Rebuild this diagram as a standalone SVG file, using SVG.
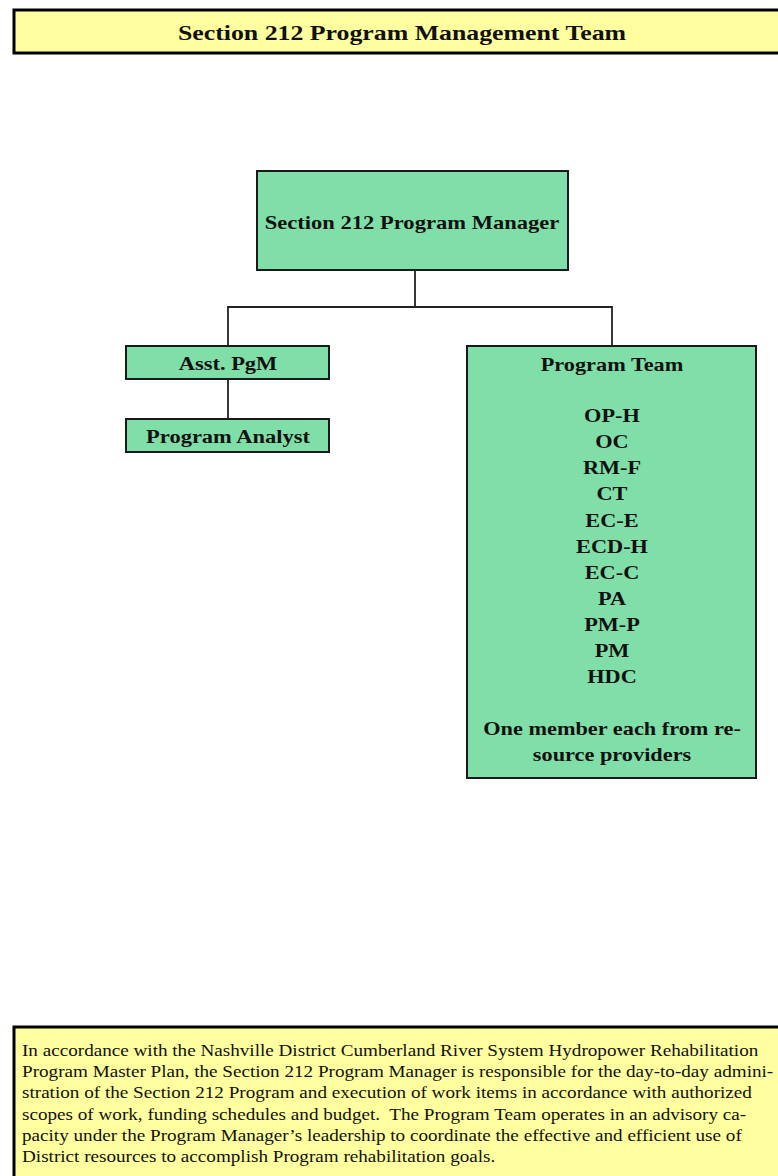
<svg xmlns="http://www.w3.org/2000/svg" width="778" height="1176" viewBox="0 0 778 1176">
<style>
.banner{fill:#FFFF9F;stroke:#000;stroke-width:3}
.node{fill:#80DFA8;stroke:#1a1a1a;stroke-width:2}
.t{font-family:"Liberation Serif","Times New Roman",serif;font-weight:bold;fill:#111;text-anchor:middle;font-size:18px}
.body{font-family:"Liberation Serif","Times New Roman",serif;fill:#111;font-size:16.5px;white-space:pre}
.conn{fill:none;stroke:#222;stroke-width:1.8}
</style>
<rect width="778" height="1176" fill="#fff"/>
<g id="title">
<rect class="banner" x="14" y="10" width="770" height="43"/>
<text class="t" transform="translate(402,40) scale(1.23,1)" style="font-size:21px">Section 212 Program Management Team</text>
</g>
<g id="connectors">
<path class="conn" d="M415,270 V307 M228,346 V307 H612 V346 M228,379 V419"/>
</g>
<g id="manager">
<rect class="node" x="257" y="171" width="311" height="99"/>
<text class="t" transform="translate(412,229) scale(1.22,1)" style="font-size:18.5px">Section 212 Program Manager</text>
</g>
<g id="asst">
<rect class="node" x="126" y="346" width="203" height="33"/>
<text class="t" transform="translate(228,370) scale(1.25,1)">Asst. PgM</text>
</g>
<g id="analyst">
<rect class="node" x="126" y="419" width="203" height="33"/>
<text class="t" transform="translate(228,443) scale(1.25,1)">Program Analyst</text>
</g>
<g id="team">
<rect class="node" x="467" y="346" width="289" height="432"/>
<g transform="translate(612,0) scale(1.24,1)">
<text class="t" x="0" y="371">Program Team</text>
<text class="t" x="0" y="422">OP-H</text>
<text class="t" x="0" y="448">OC</text>
<text class="t" x="0" y="474">RM-F</text>
<text class="t" x="0" y="500">CT</text>
<text class="t" x="0" y="527">EC-E</text>
<text class="t" x="0" y="553">ECD-H</text>
<text class="t" x="0" y="579">EC-C</text>
<text class="t" x="0" y="605">PA</text>
<text class="t" x="0" y="631">PM-P</text>
<text class="t" x="0" y="657">PM</text>
<text class="t" x="0" y="683">HDC</text>
<text class="t" x="0" y="735">One member each from re-</text>
<text class="t" x="0" y="761">source providers</text>
</g>
</g>
<g id="note">
<rect class="banner" x="14" y="1027" width="770" height="160"/>
<g transform="translate(22,0) scale(1.16,1)">
<text class="body" x="0" y="1056">In accordance with the Nashville District Cumberland River System Hydropower Rehabilitation</text>
<text class="body" x="0" y="1077">Program Master Plan, the Section 212 Program Manager is responsible for the day-to-day admini-</text>
<text class="body" x="0" y="1098">stration of the Section 212 Program and execution of work items in accordance with authorized</text>
<text class="body" x="0" y="1120">scopes of work, funding schedules and budget.  The Program Team operates in an advisory ca-</text>
<text class="body" x="0" y="1141">pacity under the Program Manager’s leadership to coordinate the effective and efficient use of</text>
<text class="body" x="0" y="1162">District resources to accomplish Program rehabilitation goals.</text>
</g>
</g>
</svg>
